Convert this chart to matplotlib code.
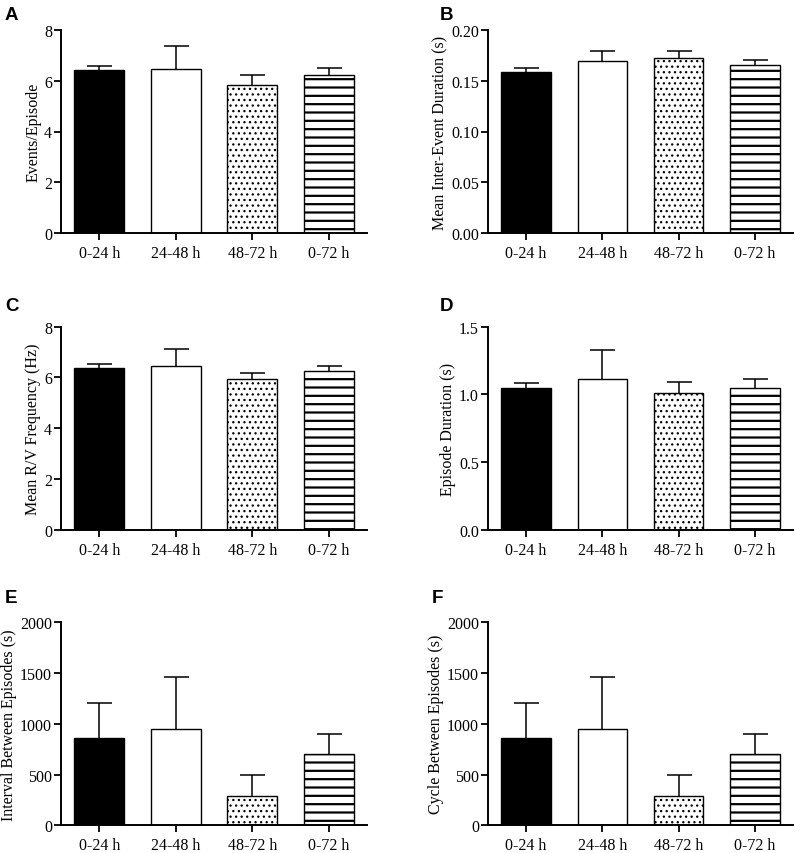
import matplotlib
matplotlib.use("Agg")
import matplotlib.pyplot as plt
import numpy as np

plt.rcParams['hatch.linewidth'] = 1.6
plt.rcParams['font.family'] = ['Liberation Serif', 'DejaVu Serif']

categories = ["0-24 h", "24-48 h", "48-72 h", "0-72 h"]

a_mean = [6.43, 6.45, 5.82, 6.24]
a_sem = [0.15, 0.91, 0.42, 0.26]
b_mean = [0.159, 0.169, 0.172, 0.166]
b_sem = [0.004, 0.010, 0.007, 0.004]
c_mean = [6.38, 6.44, 5.93, 6.24]
c_sem = [0.16, 0.69, 0.25, 0.22]
d_mean = [1.045, 1.116, 1.012, 1.049]
d_sem = [0.037, 0.214, 0.079, 0.062]
e_mean = [864, 953, 290, 700]
e_sem = [342, 509, 203, 203]
f_mean = [864, 953, 290, 700]
f_sem = [342, 509, 203, 203]

panels = [
    ("A", "Events/Episode", a_mean, a_sem, [0, 2, 4, 6, 8], "{:.0f}"),
    ("B", "Mean Inter-Event Duration (s)", b_mean, b_sem, [0, 0.05, 0.10, 0.15, 0.20], "{:.2f}"),
    ("C", "Mean R/V Frequency (Hz)", c_mean, c_sem, [0, 2, 4, 6, 8], "{:.0f}"),
    ("D", "Episode Duration (s)", d_mean, d_sem, [0, 0.5, 1.0, 1.5], "{:.1f}"),
    ("E", "Interval Between Episodes (s)", e_mean, e_sem, [0, 500, 1000, 1500, 2000], "{:.0f}"),
    ("F", "Cycle Between Episodes (s)", f_mean, f_sem, [0, 500, 1000, 1500, 2000], "{:.0f}"),
]

W, H = 796, 854
fig = plt.figure(figsize=(W / 100, H / 100), dpi=100)

col_left = [61, 488]
col_width = [306, 305]
row_top = [31, 327.7, 623.3]
ax_h = 203

fills = ["black", "white", "white", "white"]
hatches = [None, None, "...", "--"]
hatch_lw = [1.0, 1.0, 0.9, 1.6]
label_pos = [(5, 7), (440, 7), (5, 298), (440, 298), (5, 590), (432, 590)]

x = np.arange(len(categories))
for i, (lab, ylab, mean, sem, ticks, fmt) in enumerate(panels):
    r, c = divmod(i, 2)
    left = col_left[c] / W
    bottom = (H - row_top[r] - ax_h) / H
    ax = fig.add_axes([left, bottom, col_width[c] / W, ax_h / H])
    bars = ax.bar(x, mean, width=0.65, color=fills, edgecolor="black", linewidth=1.0, zorder=2)
    for b, h, hl in zip(bars, hatches, hatch_lw):
        if h:
            b.set_hatch(h)
            if hasattr(b, "set_hatch_linewidth"):
                b.set_hatch_linewidth(hl)
    eb = ax.errorbar(x, mean, yerr=[np.zeros(len(sem)), sem], fmt="none", ecolor="black",
                     elinewidth=1.1, capsize=9, capthick=1.1, zorder=1)
    caps = eb[1]
    if len(caps) == 2:
        caps[0].set_visible(False)
    ax.set_xlim(-0.5, 3.5)
    ax.set_ylim(ticks[0], ticks[-1])
    ax.set_yticks(ticks)
    ax.set_yticklabels([fmt.format(t) for t in ticks])
    ax.set_xticks(x)
    ax.set_xticklabels(categories)
    ax.set_ylabel(ylab, fontsize=11.5, labelpad=2)
    ax.tick_params(axis="both", labelsize=11.5, width=1.3, length=5, color="black")
    ax.tick_params(axis="y", pad=1.5)
    for s in ["top", "right"]:
        ax.spines[s].set_visible(False)
    for s in ["left", "bottom"]:
        ax.spines[s].set_linewidth(1.4)
    lx, ly = label_pos[i]
    fig.text(lx / W, 1 - ly / H, lab, fontsize=13.5, fontweight="bold",
             family=["Liberation Sans", "DejaVu Sans"], va="top", ha="left")

fig.savefig("out.png", dpi=100)
